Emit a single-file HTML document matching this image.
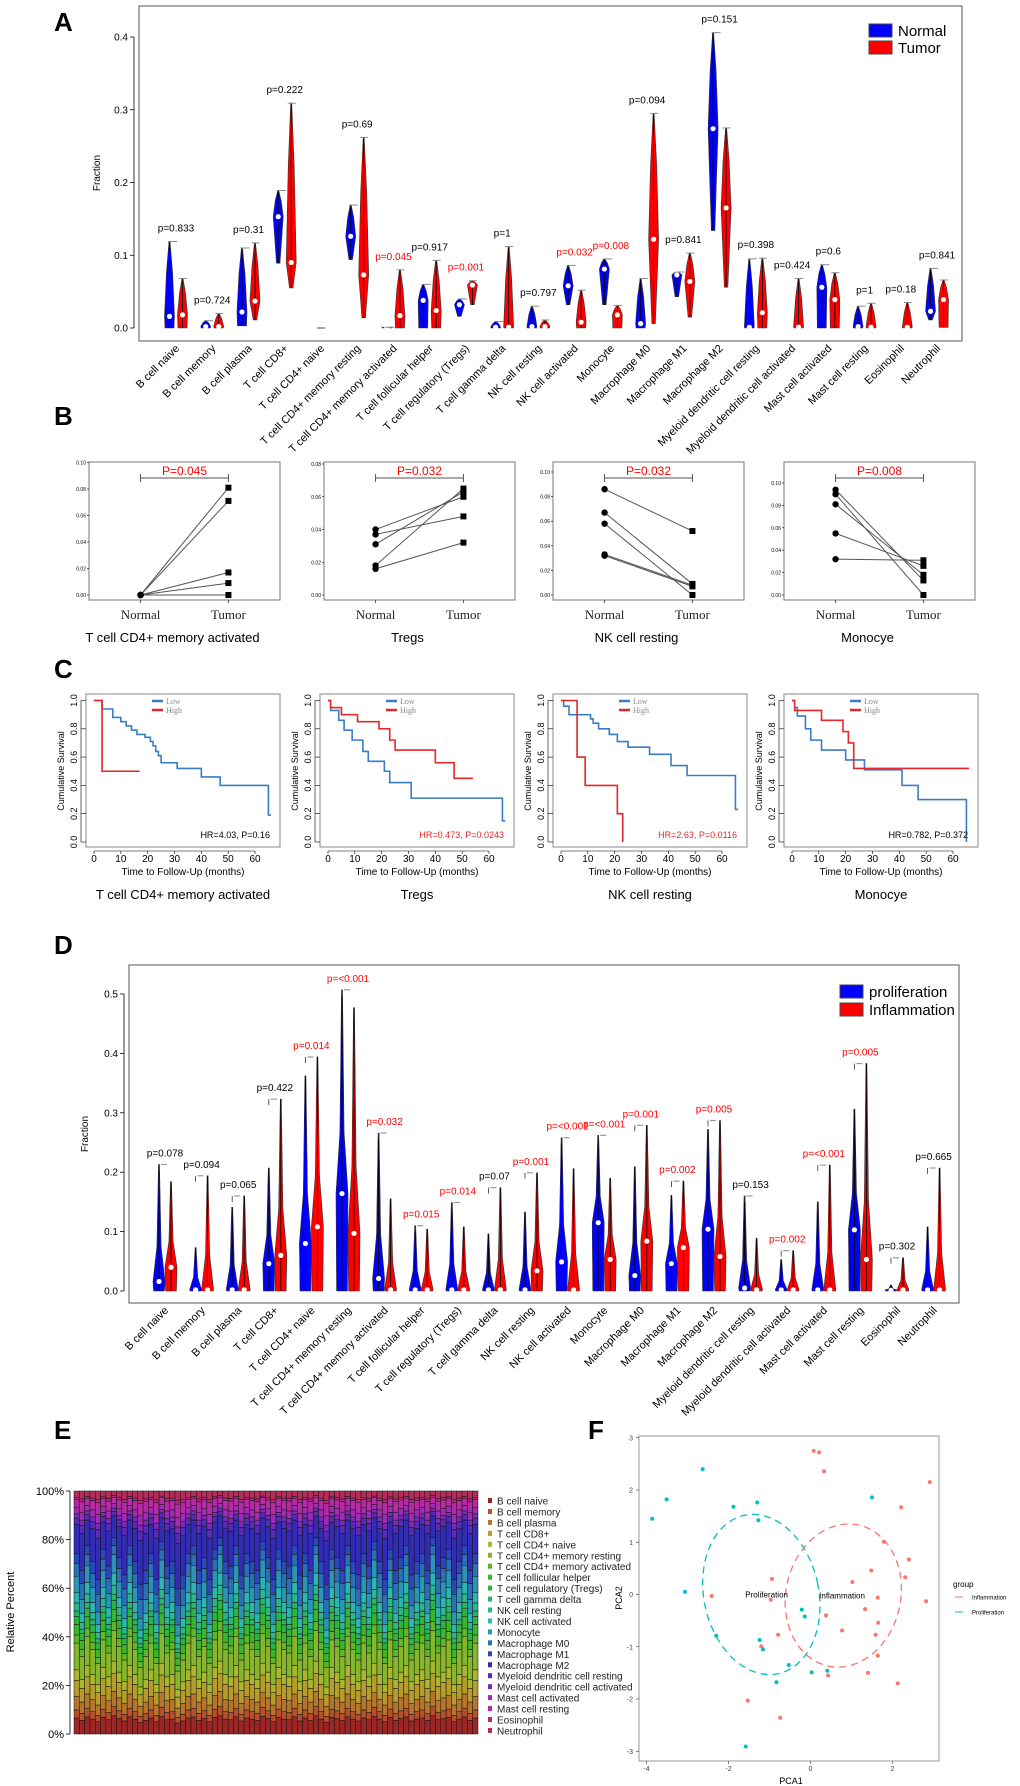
<!DOCTYPE html>
<html><head><meta charset="utf-8"><style>
html,body{margin:0;padding:0;background:#fff;}
svg{display:block;font-family:"Liberation Sans",sans-serif;}
</style></head><body>
<svg id="fig" width="1020" height="1786" viewBox="0 0 1020 1786" xmlns="http://www.w3.org/2000/svg"></svg>
<script>
// ---------- Panel A data ----------
const aCats=["B cell naive","B cell memory","B cell plasma","T cell CD8+","T cell CD4+ naive","T cell CD4+ memory resting","T cell CD4+ memory activated","T cell follicular helper","T cell regulatory (Tregs)","T cell gamma delta","NK cell resting","NK cell activated","Monocyte","Macrophage M0","Macrophage M1","Macrophage M2","Myeloid dendritic cell resting","Myeloid dendritic cell activated","Mast cell activated","Mast cell resting","Eosinophil","Neutrophil"];
const aNormTop=[0.119,0.010,0.110,0.189,0,0.169,0.001,0.060,0.040,0.009,0.030,0.086,0.095,0.068,0.077,0.406,0.095,0,0.087,0.030,0,0.082];
const aNormMed=[0.016,0.002,0.022,0.153,0,0.126,0,0.038,0.032,0.001,0.002,0.058,0.081,0.006,0.073,0.274,0.001,0,0.056,0.002,0,0.023];
const aNormBot=[0,0,0.003,0.089,0,0.094,0,0,0.016,0,0,0.032,0.032,0,0.043,0.134,0,0,0,0,0,0.011];
const aTumTop=[0.068,0.020,0.117,0.309,0,0.262,0.080,0.093,0.065,0.112,0.011,0.052,0.031,0.295,0.103,0.275,0.096,0.068,0.076,0.034,0.035,0.066];
const aTumMed=[0.018,0.002,0.037,0.090,0,0.073,0.017,0.024,0.059,0.001,0.002,0.008,0.018,0.122,0.064,0.165,0.021,0.001,0.039,0.001,0.001,0.039];
const aTumBot=[0,0,0.011,0.055,0,0.014,0,0,0.032,0,0,0,0,0.006,0.015,0.056,0,0,0,0,0,0.001];
const aPvals=["0.833","0.724","0.31","0.222","","0.69","0.045","0.917","0.001","1","0.797","0.032","0.008","0.094","0.841","0.151","0.398","0.424","0.6","1","0.18","0.841"];
const aSig=[6,8,11,12];
const aTicks=[0,0.1,0.2,0.3,0.4];
// ---------- Panel B data ----------
const bTitles=["T cell CD4+ memory activated","Tregs","NK cell resting","Monocye"];
const bPs=["P=0.045","P=0.032","P=0.032","P=0.008"];
const bMax=[0.10,0.08,0.10,0.10];
const bNorm=[[0,0,0,0,0],[0.040,0.037,0.031,0.018,0.016],[0.086,0.067,0.058,0.033,0.032],[0.094,0.090,0.081,0.055,0.032]];
const bTum=[[0.081,0.071,0.017,0.009,0.000],[0.060,0.048,0.063,0.065,0.032],[0.052,0.009,0.000,0.008,0.007],[0.013,0.000,0.018,0.026,0.031]];
// ---------- Panel C data ----------
const cLowT=[[0,3,7,10,12,14,16,19,21,22,23,24,25,31,40,47,65],[0,1,4,6,9,13,15,21,23,31,65],[0,1,3,11,12,14,18,21,25,33,41,47,65],[0,1,2,5,7,11,20,27,41,47,65]];
const cLowS=[[1,0.94,0.88,0.85,0.82,0.79,0.76,0.74,0.71,0.68,0.64,0.61,0.56,0.52,0.46,0.40,0.19],[1,0.93,0.86,0.79,0.72,0.64,0.57,0.50,0.42,0.31,0.15],[1,0.96,0.90,0.87,0.84,0.80,0.76,0.71,0.67,0.62,0.54,0.47,0.23],[1,0.95,0.89,0.80,0.72,0.65,0.58,0.51,0.40,0.30,0.0]];
const cLowEnd=[66,66,66,65];
const cHighT=[[0,3],[0,1,5,11,19,23,25,40,47],[0,6,9,21,23],[0,1,11,19,21,23]];
const cHighS=[[1,0.5],[1,0.95,0.90,0.85,0.80,0.72,0.65,0.56,0.45],[1,0.6,0.4,0.2,0],[1,0.93,0.86,0.78,0.70,0.52]];
const cHighEnd=[17,54,23,66];
const cHR=["HR=4.03, P=0.16","HR=0.473, P=0.0243","HR=2.63, P=0.0116","HR=0.782, P=0.372"];
const cHRsig=[false,true,true,false];
const cXTicks=[0,10,20,30,40,50,60];
const cYTicks=[0,0.2,0.4,0.6,0.8,1.0];
// ---------- Panel D data ----------
const dBlueTop=[0.213,0.073,0.141,0.207,0.362,0.507,0.266,0.110,0.149,0.096,0.133,0.258,0.262,0.209,0.161,0.272,0.160,0.053,0.150,0.306,0.010,0.108];
const dBlueMed=[0.016,0.002,0.002,0.046,0.080,0.164,0.021,0.002,0.002,0.002,0.002,0.049,0.115,0.026,0.046,0.104,0.005,0.002,0.002,0.103,0.001,0.002];
const dRedTop=[0.184,0.194,0.160,0.323,0.394,0.477,0.155,0.104,0.108,0.174,0.199,0.206,0.190,0.279,0.185,0.287,0.089,0.068,0.212,0.383,0.056,0.207];
const dRedMed=[0.040,0.002,0.002,0.060,0.108,0.097,0.002,0.002,0.002,0.002,0.034,0.002,0.053,0.084,0.073,0.058,0.002,0.002,0.002,0.053,0.002,0.002];
const dPvals=["0.078","0.094","0.065","0.422","0.014","<0.001","0.032","0.015","0.014","0.07","0.001","<0.001","<0.001","0.001","0.002","0.005","0.153","0.002","<0.001","0.005","0.302","0.665"];
const dSig=[4,5,6,7,8,10,11,12,13,14,15,17,18,19];
const dTicks=[0,0.1,0.2,0.3,0.4,0.5];
// ---------- Panel E data ----------
const eTypes=["B cell naive","B cell memory","B cell plasma","T cell CD8+","T cell CD4+ naive","T cell CD4+ memory resting","T cell CD4+ memory activated","T cell follicular helper","T cell regulatory (Tregs)","T cell gamma delta","NK cell resting","NK cell activated","Monocyte","Macrophage M0","Macrophage M1","Macrophage M2","Myeloid dendritic cell resting","Myeloid dendritic cell activated","Mast cell activated","Mast cell resting","Eosinophil","Neutrophil"];
const eMean=[6,3,5,6,4,10,3,4,3,2,3,4,6,6,5,14,3,2,3,4,1,3];
const eShift=[1.1,0.9,1.2,1.0,0.8,1.15,0.95,1.3,1.05,0.85,1.2,1.0,0.75,0.9,1.1,0.8,1.25,0.95,1.0,0.7,0.85,1.1,1.2,0.9,1.05,0.8,1.15,1.3,1.0,0.95,1.2,0.85,1.1,1.0,0.9,1.25,1.05,0.8,1.15,1.0,0.95,1.2,0.85,1.1,0.9,1.3,1.0,0.75,1.15,1.05,0.9,1.2,1.0,0.85,1.1,0.95,1.25,1.0,0.8,1.15,0.9,1.05,1.2,0.85,1.0,1.1,0.9,1.3,0.95,1.05,1.15,0.8,1.0,1.2,0.9,1.1];
const eTicks=["0%","20%","40%","60%","80%","100%"];
// ---------- Panel F data ----------
const fInfX=[0.08,0.21,0.33,2.91,2.21,1.79,2.40,1.48,2.31,1.02,-0.94,-2.41,-0.97,1.64,2.82,1.33,0.38,1.65,0.77,1.59,-0.79,-1.2,1.64,0.43,1.40,2.13,-1.53,-0.74];
const fInfY=[2.75,2.72,2.36,2.15,1.67,1.01,0.67,0.46,0.33,0.24,0.30,-0.03,-0.10,-0.06,-0.13,-0.28,-0.40,-0.54,-0.69,-0.77,-0.77,-0.99,-1.17,-1.55,-1.50,-1.70,-2.03,-2.36];
const fProX=[-2.63,-3.51,-3.86,-1.88,-1.30,-1.27,1.50,-3.06,-0.21,-0.14,-2.30,-1.24,-1.16,-0.53,0.03,0.41,-0.83,-1.58];
const fProY=[2.40,1.82,1.45,1.68,1.76,1.42,1.86,0.05,-0.29,-0.42,-0.79,-0.87,-1.05,-1.35,-1.49,-1.46,-1.68,-2.91];
const fXTicks=[-4,-2,0,2];
const fYTicks=[-3,-2,-1,0,1,2,3];

const NS="http://www.w3.org/2000/svg";
const svg=document.getElementById('fig');
function mk(tag,parent){const e=document.createElementNS(NS,tag);(parent||svg).appendChild(e);return e;}
function sa(e,o){for(const k in o)e.setAttribute(k,o[k]);return e;}
function tx(p,x,y,s,size,name,anchor,fill,extra){
  const t=mk('text',p);sa(t,{x:x,y:y,'font-size':size,'text-anchor':anchor||'start',fill:fill||'#000'});
  if(extra)sa(t,extra);
  t.textContent=s;
  
  
  return t;}
function ln(p,x1,y1,x2,y2,stroke,w,name){
  const l=mk('line',p);sa(l,{x1:x1,y1:y1,x2:x2,y2:y2,stroke:stroke,'stroke-width':w});
  
  
  return l;}
function rc(p,x,y,w,h,fill,stroke,name){
  const r=mk('rect',p);sa(r,{x:x,y:y,width:w,height:h,fill:fill,stroke:stroke||'none'});
  
  
  return r;}
function letter(s,x,y){const t=tx(svg,x,y,s,26,'panel-label-'+s.toLowerCase(),'start','#000',{'font-weight':'bold'});}
function violin(p,cx,ys,bot,med,top,hw,fill,name,profile){
  if(top<=0.0005)return;
  const yb=ys(bot),ym=ys(med),yt=ys(top);
  const wb=bot>0.004?hw*0.35:hw*0.9;
  const ymid=ym+(yt-ym)*profile;
  const wmid=hw*(profile<0.5?0.35:0.6);
  const pts=[[cx-wb,yb],[cx-hw,Math.min(ym,yb-1)],[cx-wmid,ymid],[cx-0.5,yt],[cx+0.5,yt],[cx+wmid,ymid],[cx+hw,Math.min(ym,yb-1)],[cx+wb,yb]];
  const g=mk('polygon',p);sa(g,{points:pts.map(q=>q.join(',')).join(' '),fill:fill,stroke:'#333','stroke-width':0.6});
  
  
  ln(p,cx,yb,cx,yt,'#000',0.8,name+'-box');
  const c=mk('circle',p);sa(c,{cx:cx,cy:ym,r:2.6,fill:'#fff'});
  
  
}

// ===== Panel A =====
letter('A',54,31);
const gA=mk('g');


const aL=139,aR=962,aT=6,aB=341;
const aY=v=>328-v*(328-37)/0.4;
const aX=i=>176+i*36.24;
rc(gA,aL,aT,aR-aL,aB-aT,'none','#555','panel-a-plot-frame').setAttribute('stroke-width',1);
ln(gA,134,aY(0),134,aY(0.4),'#000',0.8,'panel-a-y-axis');
aTicks.forEach(v=>{ln(gA,130,aY(v),134,aY(v),'#000',0.8,'a-y-tick');tx(gA,128,aY(v)+3.5,v.toFixed(1),10,'a-y-tick-label','end');});
tx(gA,100,173,'Fraction',10,'a-y-axis-title','middle','#000',{transform:'rotate(-90 100 173)'});
aCats.forEach((c,i)=>{
  const cx=aX(i);
  violin(gA,cx-6.5,aY,aNormBot[i],aNormMed[i],aNormTop[i],5,'#0000ff','a-violin-normal-'+i,0.6);
  violin(gA,cx+6.5,aY,aTumBot[i],aTumMed[i],aTumTop[i],5,'#ff0000','a-violin-tumor-'+i,0.6);
  if(aNormTop[i]>0.0005)ln(gA,cx-8,aY(aNormTop[i]),cx+1,aY(aNormTop[i]),'#888',1,'a-cap');
  if(aTumTop[i]>0.0005)ln(gA,cx+3,aY(aTumTop[i]),cx+11,aY(aTumTop[i]),'#888',1,'a-cap');
  if(i===4)ln(gA,cx-4,aY(0),cx+4,aY(0),'#444',1,'a-empty-mark');
  if(aPvals[i]){const top=Math.max(aNormTop[i],aTumTop[i]);
    tx(gA,cx,aY(top)-10,'p='+aPvals[i],10,'a-p-value','middle',aSig.includes(i)?'#ff0000':'#000');}
  const lx=cx+4,ly=349;
  tx(gA,lx,ly,c,11,'a-x-label','end','#000',{transform:'rotate(-45 '+lx+' '+ly+')'});
});
rc(gA,869,24,23,13,'#0000ff','#444','a-legend-normal-swatch');
tx(gA,898,36,'Normal',15,'a-legend-normal-label');
rc(gA,869,41,23,13,'#ff0000','#444','a-legend-tumor-swatch');
tx(gA,898,53,'Tumor',15,'a-legend-tumor-label');

// ===== Panel B =====
letter('B',54,425);
const bLefts=[89,324,553,784],bW=191,bTop=462,bBot=600,bZero=595;
const bTopPix=[462.5,464,472,483];
bLefts.forEach((L,k)=>{
  const g=mk('g');
  
  
  const ys=v=>bZero-v*(bZero-bTopPix[k])/bMax[k];
  rc(g,L,bTop,bW,bBot-bTop,'none','#777','b-plot-frame');
  const nx=L+0.27*bW,tx2=L+0.73*bW;
  const ticks=bMax[k]>0.09?[0,0.02,0.04,0.06,0.08,0.10]:[0,0.02,0.04,0.06,0.08];
  ticks.forEach(v=>{ln(g,L-2,ys(v),L,ys(v),'#000',0.6,'b-y-tick');tx(g,L-3,ys(v)+2,v.toFixed(2),5,'b-y-tick-label','end');});
  ln(g,nx,bBot,nx,bBot+3,'#000',0.6,'b-x-tick');ln(g,tx2,bBot,tx2,bBot+3,'#000',0.6,'b-x-tick');
  ln(g,nx,478,tx2,478,'#555',1,'b-bracket');ln(g,nx,474,nx,482,'#555',1,'b-bracket-end');ln(g,tx2,474,tx2,482,'#555',1,'b-bracket-end');
  tx(g,(nx+tx2)/2,475,bPs[k],12,'b-p-value','middle','#ff0000');
  bNorm[k].forEach((v,j)=>{ln(g,nx,ys(v),tx2,ys(bTum[k][j]),'#555',1,'b-pair-line');});
  bNorm[k].forEach(v=>{const c=mk('circle',g);sa(c,{cx:nx,cy:ys(v),r:3.2,fill:'#000'});
    
    });
  bTum[k].forEach(v=>{rc(g,tx2-3,ys(v)-3,6,6,'#000','none','b-tumor-point');});
  tx(g,nx,619,'Normal',13,'b-x-label-normal','middle','#222',{'font-family':'"Liberation Serif",serif'});
  tx(g,tx2,619,'Tumor',13,'b-x-label-tumor','middle','#222',{'font-family':'"Liberation Serif",serif'});
  tx(g,L+bW/2-12,642,bTitles[k],13,'b-plot-title','middle');
});

// ===== Panel C =====
letter('C',54,678);
const cLefts=[86,320,553,784],cW=194,cTop=694,cBot=847;
cLefts.forEach((L,k)=>{
  const g=mk('g');
  
  
  const xs=t=>L+8+t*(161/60),ys=s=>842-s*141.5;
  rc(g,L,cTop,cW,cBot-cTop,'none','#888','c-plot-frame');
  cYTicks.forEach(v=>{ln(g,L-5,ys(v),L,ys(v),'#000',0.6,'c-y-tick');
    tx(g,L-9,ys(v),v.toFixed(1),9,'c-y-tick-label','middle','#000',{transform:'rotate(-90 '+(L-9)+' '+ys(v)+')'});});
  ln(g,L-5,ys(0),L-5,ys(1),'#000',0.6,'c-y-axis');
  tx(g,L-22,771,'Cumulative Survival',9,'c-y-axis-title','middle','#000',{transform:'rotate(-90 '+(L-22)+' 771)'});
  ln(g,xs(0),cBot+4,xs(60),cBot+4,'#000',0.6,'c-x-axis');
  cXTicks.forEach(t=>{ln(g,xs(t),cBot+4,xs(t),cBot+7,'#000',0.6,'c-x-tick');tx(g,xs(t),862,String(t),10,'c-x-tick-label','middle');});
  tx(g,L+97,875,'Time to Follow-Up (months)',10,'c-x-axis-title','middle');
  tx(g,L+97,899,bTitles[k],13,'c-plot-title','middle');
  function steps(T,S,end,col,name){
    let d='M'+xs(T[0])+','+ys(S[0]);
    for(let i=1;i<T.length;i++){d+=' H'+xs(T[i])+' V'+ys(S[i]);}
    d+=' H'+xs(end);
    const p=mk('path',g);sa(p,{d:d,fill:'none',stroke:col,'stroke-width':1.6});
    
    }
  steps(cLowT[k],cLowS[k],cLowEnd[k],'#3a7cc7','c-curve-low');
  steps(cHighT[k],cHighS[k],cHighEnd[k],'#e8262a','c-curve-high');
  ln(g,L+66,701,L+77,701,'#3a7cc7',2.5,'c-legend-low-swatch');
  tx(g,L+80,704,'Low',8,'c-legend-low','start','#888',{'font-family':'"Liberation Serif",serif'});
  ln(g,L+66,710,L+77,710,'#e8262a',2.5,'c-legend-high-swatch');
  tx(g,L+80,713,'High',8,'c-legend-high','start','#888',{'font-family':'"Liberation Serif",serif'});
  tx(g,L+cW-10,838,cHR[k],9,'c-hr-text','end',cHRsig[k]?'#e8262a':'#000');
});

// ===== Panel D =====
letter('D',54,954);
const gD=mk('g');


const dL=129,dR=959,dT=965,dB=1303;
const dY=v=>1291-v*594;
const dX=i=>165+i*36.6;
rc(gD,dL,dT,dR-dL,dB-dT,'none','#555','panel-d-plot-frame');
ln(gD,124,dY(0),124,dY(0.5),'#000',0.8,'panel-d-y-axis');
dTicks.forEach(v=>{ln(gD,120,dY(v),124,dY(v),'#000',0.8,'d-y-tick');tx(gD,118,dY(v)+3.5,v.toFixed(1),10,'d-y-tick-label','end');});
tx(gD,88,1134,'Fraction',10,'d-y-axis-title','middle','#000',{transform:'rotate(-90 88 1134)'});
aCats.forEach((c,i)=>{
  const cx=dX(i);
  violin(gD,cx-6,dY,0,dBlueMed[i],dBlueTop[i],6,'#0000ff','d-violin-proliferation-'+i,0.3);
  violin(gD,cx+6,dY,0,dRedMed[i],dRedTop[i],6,'#ff0000','d-violin-inflammation-'+i,0.3);
  const top=Math.max(dBlueTop[i],dRedTop[i]);
  ln(gD,cx-6,dY(top),cx-6,dY(top)+6,'#333',0.8,'d-cap');
  ln(gD,cx-4,dY(top),cx+2,dY(top),'#999',1.2,'d-cap');
  tx(gD,cx,dY(top)-8,'p='+dPvals[i],10,'d-p-value','middle',dSig.includes(i)?'#ff0000':'#000');
  const lx=cx+4,ly=1311;
  tx(gD,lx,ly,c,11,'d-x-label','end','#000',{transform:'rotate(-45 '+lx+' '+ly+')'});
});
rc(gD,840,985,23,13,'#0000ff','#444','d-legend-proliferation-swatch');
tx(gD,869,997,'proliferation',15,'d-legend-proliferation-label');
rc(gD,840,1003,23,13,'#ff0000','#444','d-legend-inflammation-swatch');
tx(gD,869,1015,'Inflammation',15,'d-legend-inflammation-label');

// ===== Panel E =====
letter('E',54,1439);
const gE=mk('g');


const eL=74,eR=478,eTop=1491,eBot=1734;
const eColors=eTypes.map((t,i)=>'hsl('+Math.round(i*340/21)+',62%,'+(i===0?38:44)+'%)');
const bw=(eR-eL)/eShift.length;
eShift.forEach((s,j)=>{
  const f=eMean.map((m,i)=>i<13?m*s:m*(2-s)*0.95);
  const tot=f.reduce((a,b)=>a+b,0);
  let acc=0;
  f.forEach((v,i)=>{
    const h=v/tot*(eBot-eTop);
    const r=rc(gE,eL+j*bw,eBot-acc-h,bw,h,eColors[i],'#111','e-bar-segment');
    r.setAttribute('stroke-width',0.5);
    acc+=h;});
});
ln(gE,70,eTop,70,eBot,'#000',0.8,'e-y-axis');
eTicks.forEach((l,i)=>{const y=eBot-i*(eBot-eTop)/5;ln(gE,66,y,70,y,'#000',0.8,'e-y-tick');tx(gE,64,y+4,l,11,'e-y-tick-label','end');});
tx(gE,14,1612,'Relative Percent',11,'e-y-axis-title','middle','#000',{transform:'rotate(-90 14 1612)'});
eTypes.forEach((t,i)=>{const y=1501+i*10.95;
  rc(gE,488,y-3,4,5,eColors[i],'none','e-legend-swatch');
  tx(gE,497,y+3.5,t,10,'e-legend-label','start','#222');});

// ===== Panel F =====
letter('F',588,1439);
const gF=mk('g');


const fX=v=>810.5+v*41,fY=v=>1594.5-v*52.25;
rc(gF,639,1436,300,325,'none','#999','f-plot-frame');
fXTicks.forEach(v=>{ln(gF,fX(v),1761,fX(v),1764,'#333',0.6,'f-x-tick');tx(gF,fX(v),1771,String(v),7,'f-x-tick-label','middle','#444');});
fYTicks.forEach(v=>{ln(gF,636,fY(v),639,fY(v),'#333',0.6,'f-y-tick');tx(gF,633,fY(v)+2.5,String(v),7,'f-y-tick-label','end','#444');});
tx(gF,791,1784,'PCA1',9,'f-x-axis-title','middle');
tx(gF,622,1598,'PCA2',9,'f-y-axis-title','middle','#000',{transform:'rotate(-90 622 1598)'});
function ell(cx,cy,rx,ry,rot,col,name){const e=mk('ellipse',gF);
  sa(e,{cx:fX(cx),cy:fY(cy),rx:rx*41,ry:ry*52.25,fill:'none',stroke:col,'stroke-width':1.3,'stroke-dasharray':'7 5',transform:'rotate('+rot+' '+fX(cx)+' '+fY(cy)+')'});
  
  }
ell(-1.2,0.0,1.4,1.55,-12,'#00bfc4','f-ellipse-proliferation');
ell(0.8,-0.02,1.4,1.38,12,'#f8766d','f-ellipse-inflammation');
fInfX.forEach((x,i)=>{const c=mk('circle',gF);sa(c,{cx:fX(x),cy:fY(fInfY[i]),r:2,fill:'#f8766d'});
  
  });
fProX.forEach((x,i)=>{const c=mk('circle',gF);sa(c,{cx:fX(x),cy:fY(fProY[i]),r:2,fill:'#00bfc4'});
  
  });
tx(gF,fX(-1.07),fY(0)+3,'Proliferation',8,'f-label-proliferation','middle');
tx(gF,fX(0.77),fY(-0.02)+3,'Inflammation',8,'f-label-inflammation','middle');
tx(gF,953,1587,'group',8,'f-legend-title');
ln(gF,955,1597,963,1597,'#f8766d',1,'f-legend-inflammation-line');
tx(gF,972,1599.5,'Inflammation',6,'f-legend-inflammation');
ln(gF,955,1612,963,1612,'#00bfc4',1,'f-legend-proliferation-line');
tx(gF,972,1614.5,'Proliferation',6,'f-legend-proliferation');
</script>
</body></html>
